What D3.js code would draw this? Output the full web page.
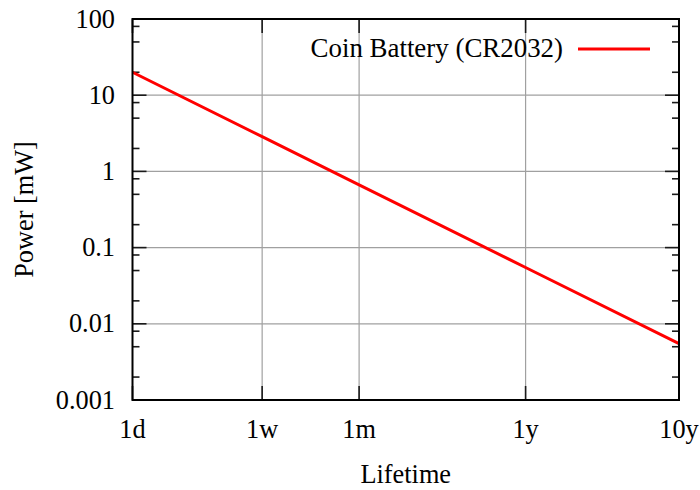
<!DOCTYPE html>
<html>
<head>
<meta charset="utf-8">
<script src="https://cdn.jsdelivr.net/npm/d3@7"></script>
<style>
html, body { margin: 0; padding: 0; background: #fff; }
svg { display: block; }
</style>
</head>
<body>
<svg id="chart" width="700" height="490"></svg>
<script>
// Data (lifetime in days, power in mW)
const lifetimeDays = [1, 7, 30, 365, 3650];
const powerMW = [20, 2.86, 0.667, 0.0548, 0.00548];
const xTickValues = [1, 7, 30, 365, 3650];
const xTickLabels = ["1d", "1w", "1m", "1y", "10y"];
const yTickValues = [0.001, 0.01, 0.1, 1, 10, 100];
const yTickLabels = ["0.001", "0.01", "0.1", "1", "10", "100"];
const yMinorValues = [];
[0.001, 0.01, 0.1, 1, 10].forEach(d => [2, 5, 8].forEach(m => yMinorValues.push(d * m)));
const seriesName = "Coin Battery (CR2032)";

const svg = d3.select("#chart")
  .attr("font-family", "'Liberation Serif', 'Times New Roman', Times, serif");
const pL = 132.5, pR = 679, pT = 19, pB = 400;
const fs = 26.3;

const x = d3.scaleLog().domain([1, 3650]).range([pL, pR]);
const y = d3.scaleLog().domain([0.001, 100]).range([pB, pT]);

const grid = svg.append("g");
grid.selectAll("line.vx").data(xTickValues.slice(1, -1)).enter().append("line")
  .attr("x1", d => x(d)).attr("x2", d => x(d))
  .attr("y1", pT).attr("y2", pB)
  .attr("stroke", "#a0a0a0").attr("stroke-width", 1.2);
grid.selectAll("line.hy").data(yTickValues.slice(1, -1)).enter().append("line")
  .attr("x1", pL).attr("x2", pR)
  .attr("y1", d => y(d)).attr("y2", d => y(d))
  .attr("stroke", "#a0a0a0").attr("stroke-width", 1.2);

const tk = svg.append("g").attr("stroke", "#1a1a1a").attr("stroke-width", 1.6);
const major = 14, minor = 7;
yTickValues.forEach(v => {
  tk.append("line").attr("x1", pL).attr("x2", pL + major).attr("y1", y(v)).attr("y2", y(v));
  tk.append("line").attr("x1", pR).attr("x2", pR - major).attr("y1", y(v)).attr("y2", y(v));
});
yMinorValues.forEach(v => {
  tk.append("line").attr("x1", pL).attr("x2", pL + minor).attr("y1", y(v)).attr("y2", y(v));
  tk.append("line").attr("x1", pR).attr("x2", pR - minor).attr("y1", y(v)).attr("y2", y(v));
});
xTickValues.forEach(v => {
  tk.append("line").attr("x1", x(v)).attr("x2", x(v)).attr("y1", pB).attr("y2", pB - major);
  tk.append("line").attr("x1", x(v)).attr("x2", x(v)).attr("y1", pT).attr("y2", pT + major);
});

const line = d3.line().x((d, i) => x(lifetimeDays[i])).y(d => y(d));
svg.append("path").datum(powerMW)
  .attr("d", line)
  .attr("fill", "none").attr("stroke", "#ff0000").attr("stroke-width", 3);

svg.append("rect").attr("x", pL).attr("y", pT)
  .attr("width", pR - pL).attr("height", pB - pT)
  .attr("fill", "none").attr("stroke", "#000").attr("stroke-width", 2);

svg.append("g").selectAll("text").data(yTickValues).enter().append("text")
  .attr("x", 115).attr("y", d => y(d) + 8.5)
  .attr("text-anchor", "end").attr("font-size", fs)
  .text((d, i) => yTickLabels[i]);
svg.append("g").selectAll("text").data(xTickValues).enter().append("text")
  .attr("x", d => x(d)).attr("y", 438)
  .attr("text-anchor", "middle").attr("font-size", fs)
  .text((d, i) => xTickLabels[i]);

svg.append("text").attr("x", (pL + pR) / 2).attr("y", 483)
  .attr("text-anchor", "middle").attr("font-size", fs).text("Lifetime");
svg.append("text").attr("transform", `translate(33,${(pT + pB) / 2}) rotate(-90)`)
  .attr("text-anchor", "middle").attr("font-size", fs).text("Power [mW]");

svg.append("text").attr("x", 563).attr("y", 57)
  .attr("text-anchor", "end").attr("font-size", 26.9).text(seriesName);
svg.append("line").attr("x1", 578).attr("x2", 650).attr("y1", 49).attr("y2", 49)
  .attr("stroke", "#ff0000").attr("stroke-width", 3);
</script>
</body>
</html>
